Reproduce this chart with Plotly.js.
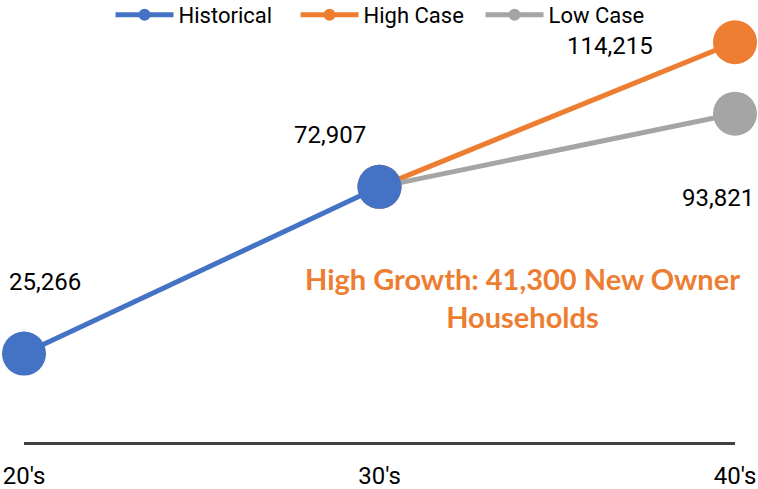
<!DOCTYPE html>
<html>
<head>
<meta charset="utf-8">
<script src="https://cdn.plot.ly/plotly-3.0.1.min.js"></script>
<style>
  html, body { margin: 0; padding: 0; background: #fff; }
  #chart { width: 758px; height: 489px; }
</style>
</head>
<body>
<div id="chart"></div>
<script>
// Owner households by decade of age
const decades = ["20's", "30's", "40's"];
const historical = [25266, 72907, null];
const highCase = [null, 72907, 114215];
const lowCase = [null, 72907, 93821];
const seriesNames = ["Historical", "High Case", "Low Case"];
const seriesColors = ["#4472C4", "#ED7D31", "#A5A5A5"];
const calloutText = "High Growth: 41,300 New Owner<br>Households";

const labelFont = "Roboto, 'Liberation Sans', sans-serif";
const allSeries = [historical, highCase, lowCase];

// draw order: projections first, historical on top
const drawOrder = [1, 2, 0];
const lineTraces = drawOrder.map(i => ({
  x: decades, y: allSeries[i], type: 'scatter', mode: 'lines+markers',
  name: seriesNames[i], showlegend: false, connectgaps: false, cliponaxis: false,
  line: { color: seriesColors[i], width: 5 },
  marker: { color: seriesColors[i], size: 44 },
  hoverinfo: 'skip'
}));

// legend entries with small markers
const legendTraces = seriesNames.map((n, i) => ({
  x: [null], y: [null], type: 'scatter', mode: 'lines+markers', name: n,
  line: { color: seriesColors[i], width: 5 },
  marker: { color: seriesColors[i], size: 12 }
}));

const fmt = v => v.toLocaleString('en-US');
const labelSpots = [
  { x: 0, y: historical[0], dx: -17, dy: 72, anchor: 'left' },
  { x: 1, y: historical[1], dx: -50, dy: 52, anchor: 'center' },
  { x: 2, y: highCase[2], dx: -80, dy: -4, anchor: 'right' },
  { x: 2, y: lowCase[2], dx: 21, dy: -84, anchor: 'right' }
];
const annotations = labelSpots.map(s => ({
  x: s.x, y: s.y, xref: 'x', yref: 'y', text: fmt(s.y), showarrow: false,
  xanchor: s.anchor, yanchor: 'middle',
  xshift: s.dx, yshift: s.dy, font: { family: labelFont, size: 24, color: '#000' }
}));
annotations.push({
  x: 0.7018, y: 0.343, xref: 'paper', yref: 'paper', text: calloutText,
  showarrow: false, align: 'center', xanchor: 'center', yanchor: 'middle',
  font: { family: 'Lato, sans-serif', size: 29, color: '#ED7D31', weight: 'bold' }
});

const layout = {
  width: 758, height: 489,
  margin: { l: 24, r: 23, t: 22, b: 47, autoexpand: false },
  paper_bgcolor: '#fff', plot_bgcolor: '#fff',
  showlegend: true,
  legend: {
    orientation: 'h', x: 0.512, xanchor: 'center', y: 1.017, yanchor: 'middle',
    itemwidth: 58, entrywidth: 112, entrywidthmode: 'pixels',
    font: { family: labelFont, size: 22, color: '#000' }, bgcolor: 'rgba(0,0,0,0)'
  },
  xaxis: {
    type: 'category', range: [0, 2], showgrid: false, zeroline: false,
    showline: true, linecolor: '#404040', linewidth: 3, ticks: '',
    ticklabelstandoff: 10,
    tickfont: { family: labelFont, size: 24, color: '#000' }, fixedrange: true
  },
  yaxis: {
    range: [0, 120000], showgrid: false, zeroline: false, showline: false,
    showticklabels: false, ticks: '', fixedrange: true
  },
  annotations: annotations
};

Plotly.newPlot('chart', lineTraces.concat(legendTraces), layout, { displayModeBar: false, staticPlot: true });
</script>
</body>
</html>
